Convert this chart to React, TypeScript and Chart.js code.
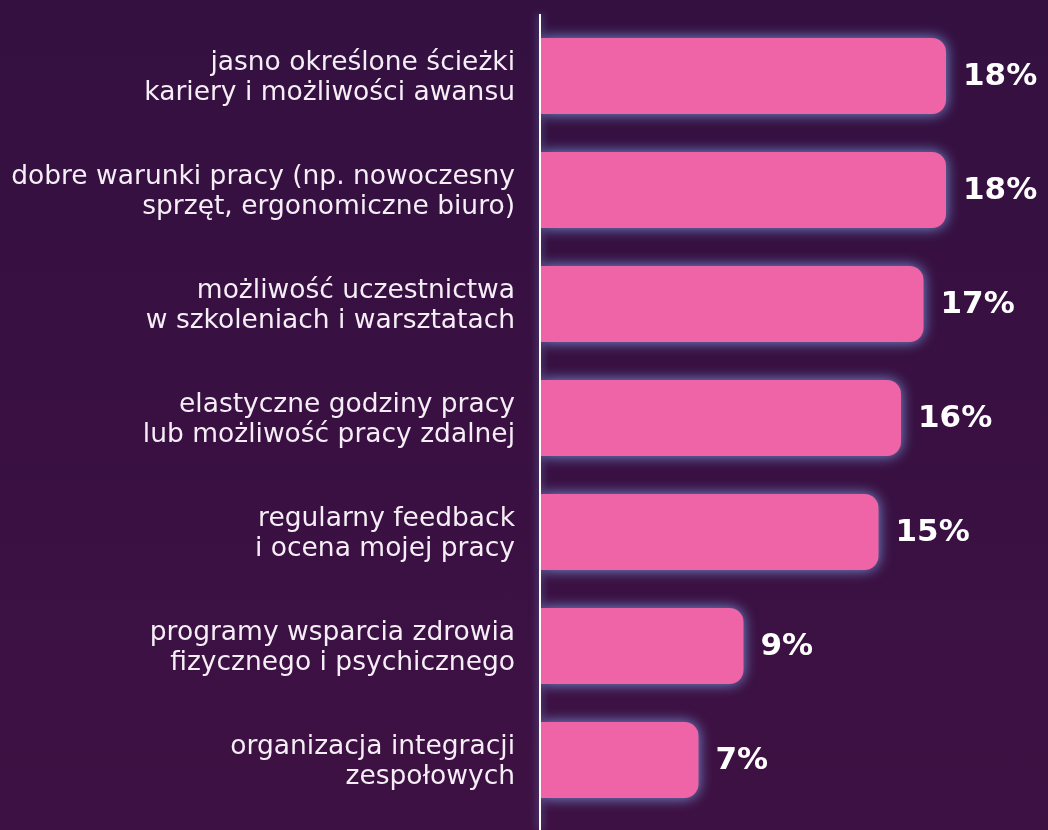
import React, { useEffect, useRef } from "react";
import { Chart, registerables } from "chart.js";

Chart.register(...registerables);

const categories: string[][] = [
  ["jasno określone ścieżki", "kariery i możliwości awansu"],
  ["dobre warunki pracy (np. nowoczesny", "sprzęt, ergonomiczne biuro)"],
  ["możliwość uczestnictwa", "w szkoleniach i warsztatach"],
  ["elastyczne godziny pracy", "lub możliwość pracy zdalnej"],
  ["regularny feedback", "i ocena mojej pracy"],
  ["programy wsparcia zdrowia", "fizycznego i psychicznego"],
  ["organizacja integracji", "zespołowych"],
];
const values: number[] = [18, 18, 17, 16, 15, 9, 7];
const valueLabels: string[] = ["18%", "18%", "17%", "16%", "15%", "9%", "7%"];

const BAR_COLOR = "#ef64a6";
const GLOW = "rgba(125,165,235,0.9)";

export default function App() {
  const ref = useRef<HTMLCanvasElement | null>(null);

  useEffect(() => {
    document.body.style.margin = "0";
    const canvas = ref.current;
    if (!canvas) return;

    const glowPlugin = {
      id: "glow",
      beforeDatasetsDraw(chart: any) {
        const { ctx, chartArea } = chart;
        ctx.save();
        ctx.shadowColor = GLOW;
        ctx.shadowBlur = 8;
        ctx.strokeStyle = "#ffffff";
        ctx.lineWidth = 2;
        ctx.beginPath();
        ctx.moveTo(chartArea.left - 1, chartArea.top - 5);
        ctx.lineTo(chartArea.left - 1, chart.height);
        ctx.stroke();
        ctx.restore();
        ctx.save();
        ctx.shadowColor = GLOW;
        ctx.shadowBlur = 14;
      },
      afterDatasetsDraw(chart: any) {
        const { ctx } = chart;
        ctx.restore();
        const meta = chart.getDatasetMeta(0);
        ctx.save();
        ctx.fillStyle = "#ffffff";
        ctx.font = "bold 31px 'DejaVu Sans'";
        ctx.textAlign = "left";
        ctx.textBaseline = "middle";
        meta.data.forEach((bar: any, i: number) => {
          ctx.fillText(valueLabels[i], bar.x + 17, bar.y + 1);
        });
        ctx.restore();
      },
    };

    const chart = new Chart(canvas, {
      type: "bar",
      data: {
        labels: categories,
        datasets: [
          {
            data: values,
            backgroundColor: BAR_COLOR,
            borderWidth: 0,
            borderRadius: 14,
            borderSkipped: "start",
            categoryPercentage: 1,
            barPercentage: 0.667,
          },
        ],
      },
      options: {
        indexAxis: "y",
        animation: false,
        responsive: false,
        maintainAspectRatio: false,
        layout: { padding: { top: 19, bottom: 13, left: 0, right: 57 } },
        plugins: { legend: { display: false }, tooltip: { enabled: false } },
        scales: {
          x: { display: false, min: 0, max: 20 },
          y: {
            grid: { display: false, drawTicks: false },
            border: { display: false },
            afterFit(scale: any) {
              scale.width = 541;
              scale.paddingTop = 0;
              scale.paddingBottom = 0;
            },
            ticks: {
              color: "#f6eef6",
              padding: 26,
              labelOffset: 2,
              font: { family: "'DejaVu Sans'", size: 26.5, lineHeight: 1.15 },
            },
          },
        },
      },
      plugins: [glowPlugin],
    });
    return () => chart.destroy();
  }, []);

  return (
    <div
      style={{
        width: 1048,
        height: 830,
        background: "linear-gradient(180deg, #341040 0%, #3a1042 60%, #3e1143 100%)",
      }}
    >
      <canvas ref={ref} width={1048} height={830} style={{ display: "block" }} />
    </div>
  );
}
